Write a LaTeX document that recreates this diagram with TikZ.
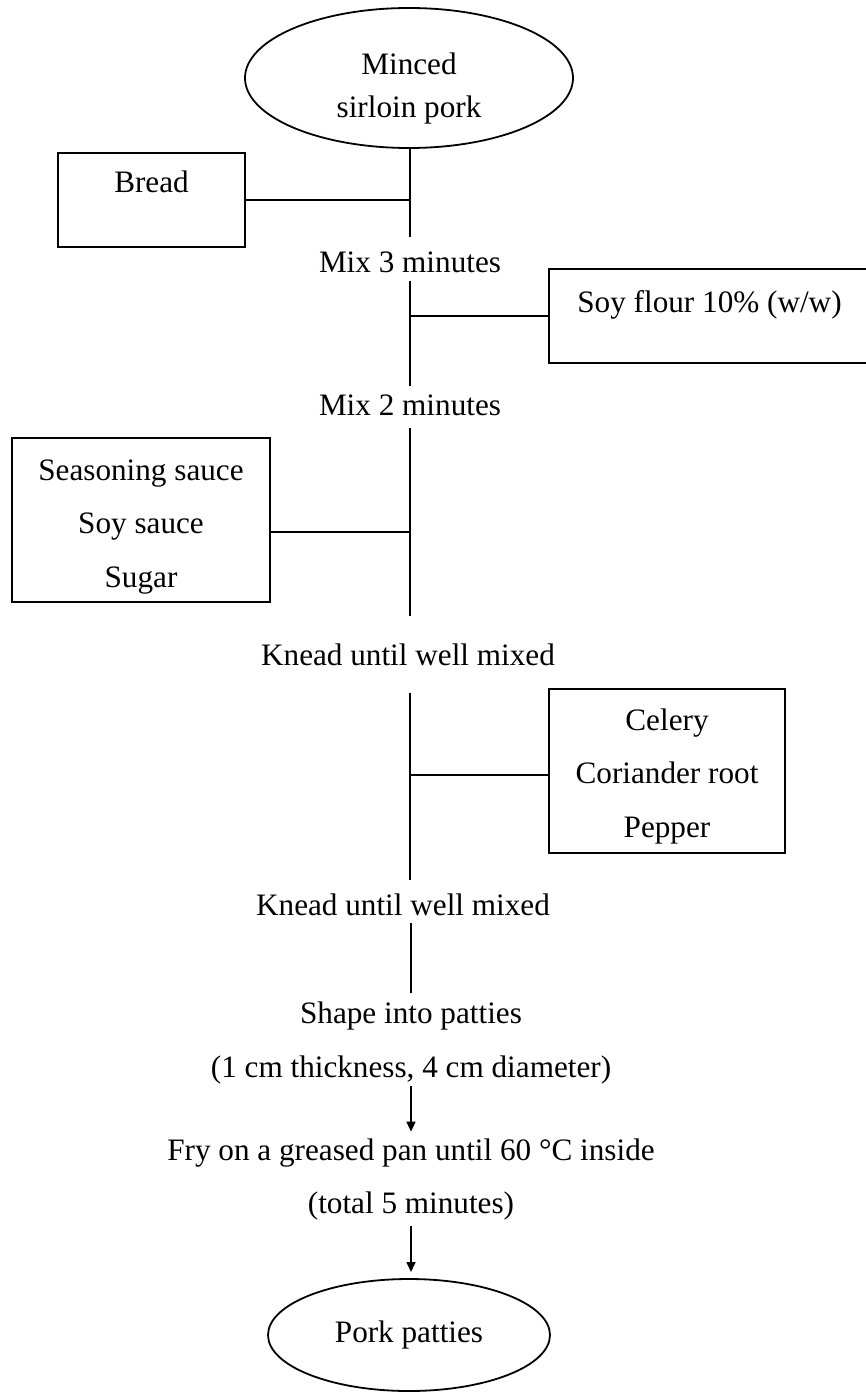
\documentclass[tikz,border=0pt]{standalone}
\usepackage{fontspec}
\setmainfont{Liberation Serif}
\usetikzlibrary{arrows.meta,shapes.geometric}
\begin{document}
\begin{tikzpicture}[x=0.5pt,y=-0.5pt,
  every node/.style={font=\fontsize{15.6}{26.75}\selectfont, inner sep=0pt, outer sep=0pt},
  stepnode/.style={anchor=base},
  multistep/.style={align=center},
  boxnode/.style={draw, line width=1pt, rectangle},
  ovalnode/.style={draw, line width=0.9pt, ellipse},
  link/.style={line width=0.85pt},
  flow/.style={line width=0.8pt, -{Triangle[width=4.5pt,length=5pt]}}
]
\useasboundingbox (0,0) rectangle (866,1392);
% start
\node[ovalnode, minimum width=164pt, minimum height=70pt] (top) at (409,78) {};
\node[multistep, font=\fontsize{15.6}{21.5}\selectfont] (topT) at (409,88.4) {Minced\\sirloin pork};
% steps
\node[stepnode] (mix3) at (410,272) {Mix 3 minutes};
\node[stepnode] (mix2) at (410,415) {Mix 2 minutes};
\node[stepnode] (knead1) at (408,665) {Knead until well mixed};
\node[stepnode] (knead2) at (403,915) {Knead until well mixed};
\node[multistep] (shape) at (411,1043) {Shape into patties\\(1 cm thickness, 4 cm diameter)};
\node[multistep] (fry) at (411,1179.5) {Fry on a greased pan until 60 °C inside\\(total 5 minutes)};
% ingredient boxes
\node[boxnode, minimum width=93.5pt, minimum height=47pt, text height=11pt, text depth=19pt] (bread) at (151.5,200) {Bread};
\node[boxnode, minimum width=160.5pt, minimum height=47pt, text height=11pt, text depth=15pt] (soy) at (709.5,316) {Soy flour 10\% (w/w)};
\node[boxnode, multistep, minimum width=129pt, minimum height=82pt] (season) at (141,520) {\rule{0pt}{17pt}Seasoning sauce\\Soy sauce\\Sugar};
\node[boxnode, multistep, minimum width=118pt, minimum height=82pt] (celery) at (667,771) {\rule{0pt}{16pt}Celery\\Coriander root\\Pepper};
% end
\node[ovalnode, minimum width=141pt, minimum height=56pt, text height=11pt, text depth=3.5pt] (final) at (409,1335) {Pork patties};
% main line
\draw[link, shorten >=17.5pt] (mix3.base |- top.south) -- (mix3.base);
\draw[link, shorten <=4.5pt, shorten >=14.5pt] (mix3.base) -- (mix3.base |- mix2.base);
\draw[link, shorten <=6.5pt, shorten >=24.5pt] (mix2.base) -- (mix2.base |- knead1.base);
\draw[link, shorten <=14pt, shorten >=17.5pt] (mix3.base |- knead1.base) -- (mix3.base |- knead2.base);
\draw[link, shorten <=4pt, shorten >=4.5pt] (shape.north |- knead2.base) -- (shape.north);
\draw[flow, shorten <=1pt, shorten >=3.5pt] (shape.south) -- (fry.north);
\draw[flow, shorten <=3pt, shorten >=3.5pt] (fry.south) -- (fry.south |- final.north);
% branches
\draw[link] (bread.east) -- (bread.east -| mix3.base);
\draw[link] (soy.west) -- (soy.west -| mix3.base);
\draw[link] ([yshift=-6pt]season.east) -- ([yshift=-6pt]season.east -| mix3.base);
\draw[link] ([yshift=-2pt]celery.west) -- ([yshift=-2pt]celery.west -| mix3.base);
\end{tikzpicture}
\end{document}
